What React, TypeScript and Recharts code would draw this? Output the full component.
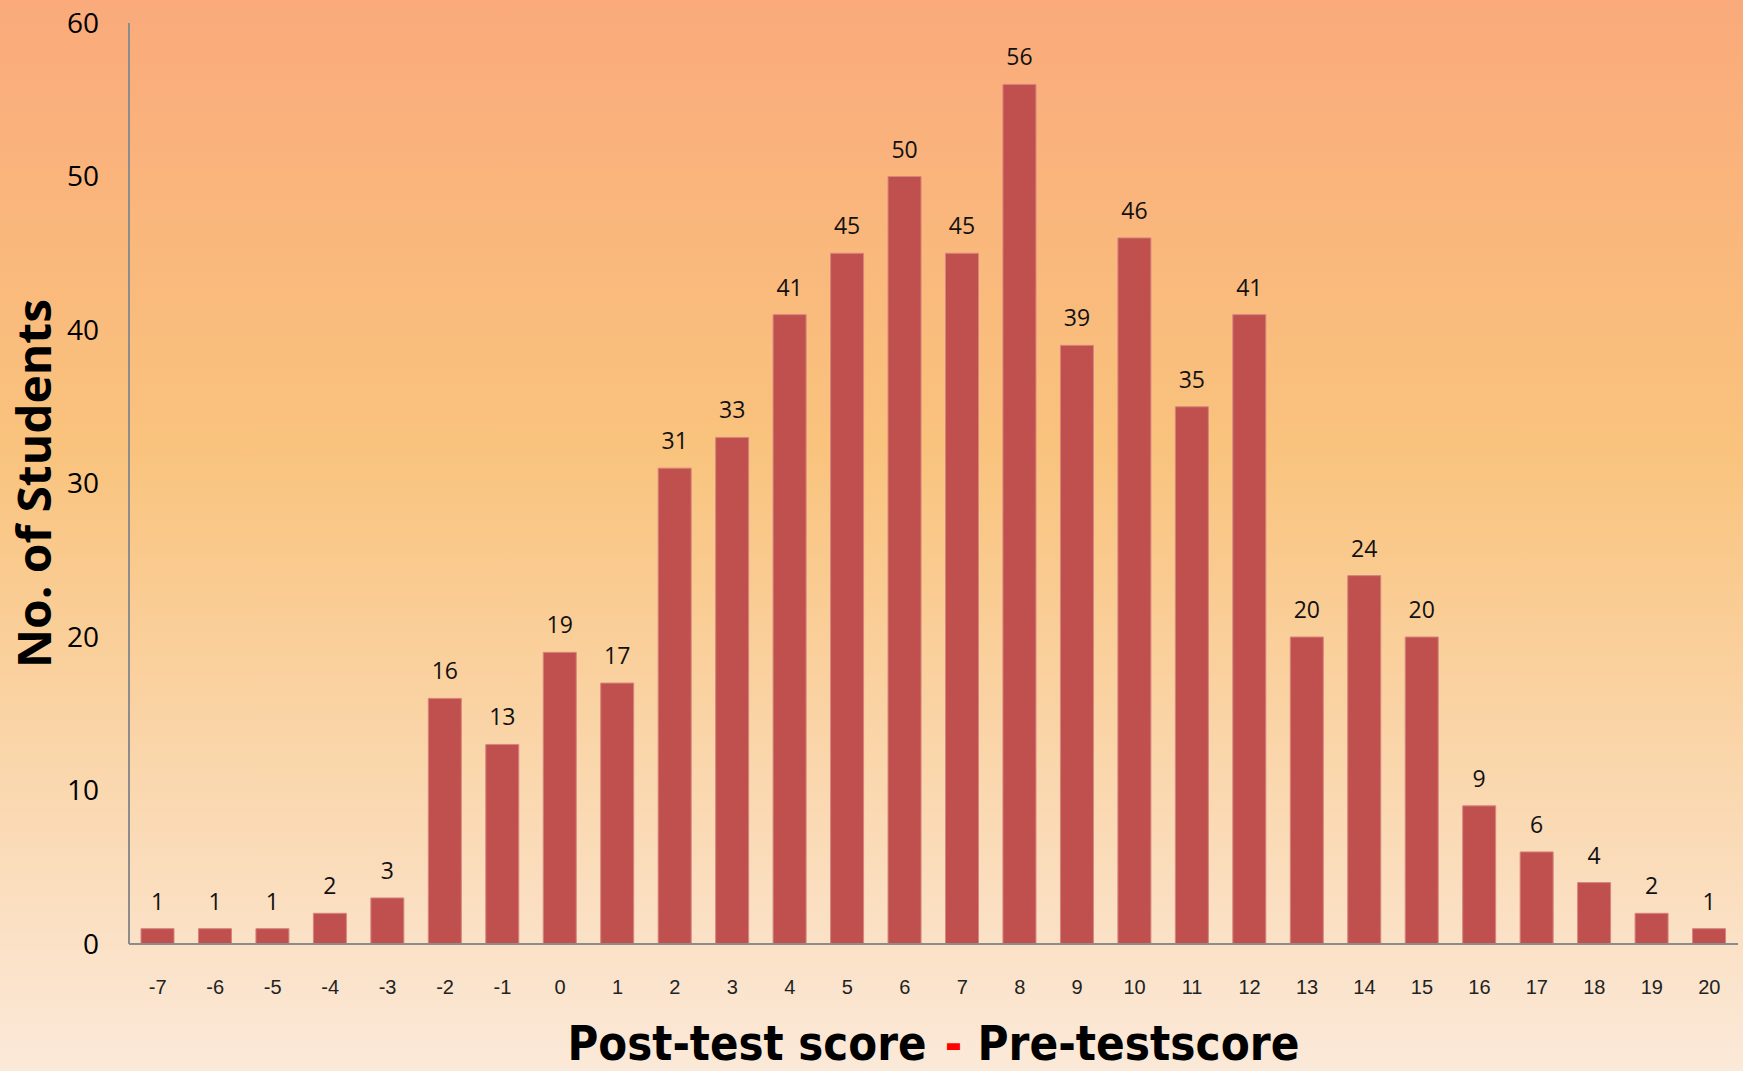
import React from 'react';
import { BarChart, Bar, XAxis, YAxis, LabelList } from 'recharts';

// score difference (post - pre) and number of students at each value
const scoreDiffs = [-7, -6, -5, -4, -3, -2, -1, 0, 1, 2, 3, 4, 5, 6, 7, 8, 9, 10, 11, 12, 13, 14, 15, 16, 17, 18, 19, 20];
const studentCounts = [1, 1, 1, 2, 3, 16, 13, 19, 17, 31, 33, 41, 45, 50, 45, 56, 39, 46, 35, 41, 20, 24, 20, 9, 6, 4, 2, 1];
const yTicks = [0, 10, 20, 30, 40, 50, 60];

const data = scoreDiffs.map((d, i) => ({ diff: String(d), count: studentCounts[i] }));

const titleFont = { fontFamily: 'DejaVu Sans', fontWeight: 'bold' as const, fontSize: 48 };
const SQUEEZE = 0.88; // the original title font is narrower than DejaVu Bold

// one piece of the x title, squeezed horizontally to the wanted width
const TitlePiece = ({ x, y, width, color, anchor, children }: any) => (
  <text
    transform={`translate(${x}, ${y}) scale(${SQUEEZE}, 1)`}
    x={0}
    y={0}
    textAnchor={anchor || 'start'}
    {...titleFont}
    fill={color}
    textLength={width ? width / SQUEEZE : undefined}
    lengthAdjust="spacingAndGlyphs"
  >
    {children}
  </text>
);

// x title is drawn in three pieces so the minus sign can be red
const XTitle = (props: any) => {
  const { viewBox } = props;
  const cx = viewBox.x + viewBox.width / 2;
  const y = viewBox.y + viewBox.height - 11;
  return (
    <g>
      <TitlePiece x={cx - 366} y={y} width={359} color="#000">
        Post-test score
      </TitlePiece>
      <TitlePiece x={cx + 20} y={y} color="#ff0000" anchor="middle">
        -
      </TitlePiece>
      <TitlePiece x={cx + 44} y={y} width={322} color="#000">
        Pre-testscore
      </TitlePiece>
    </g>
  );
};

const YTitle = (props: any) => {
  const { viewBox } = props;
  const cy = viewBox.y + viewBox.height / 2;
  const x = 51;
  return (
    <text
      x={x}
      y={cy}
      transform={`rotate(-90, ${x}, ${cy})`}
      textAnchor="middle"
      fontFamily="Open Sans"
      fontWeight="bold"
      fontSize={47}
      fill="#000"
      textLength={369}
      lengthAdjust="spacingAndGlyphs"
    >
      No. of Students
    </text>
  );
};

export default function App() {
  return (
    <div
      style={{
        position: 'absolute',
        left: 0,
        top: 0,
        width: 1743,
        height: 1071,
        background: 'linear-gradient(to bottom, #FAAA7B 0%, #F9C37D 42%, #FBE9D9 100%)',
      }}
    >
      <BarChart width={1743} height={1071} data={data} margin={{ top: 23, right: 5, bottom: 0, left: 0 }}>
        <XAxis
          dataKey="diff"
          height={127}
          axisLine={{ stroke: '#8c8c8c', strokeWidth: 2 }}
          tickLine={false}
          tickSize={0}
          tickMargin={36}
          tick={{ fontFamily: 'Liberation Sans', fontSize: 20, fill: '#222' }}
          interval={0}
          label={{ content: XTitle }}
        />
        <YAxis
          width={129}
          domain={[0, 60]}
          ticks={yTicks}
          axisLine={{ stroke: '#8c8c8c', strokeWidth: 2 }}
          tickLine={false}
          tickSize={0}
          tickMargin={30}
          tick={{ fontFamily: 'Open Sans', fontSize: 28, fill: '#000' }}
          label={{ content: YTitle }}
        />
        <Bar dataKey="count" fill="#C0504D" stroke="#d6857f" strokeWidth={1} barSize={33} isAnimationActive={false}>
          <LabelList dataKey="count" position="top" offset={19} fontFamily="Open Sans" fontSize={23} fill="#111" />
        </Bar>
      </BarChart>
    </div>
  );
}
